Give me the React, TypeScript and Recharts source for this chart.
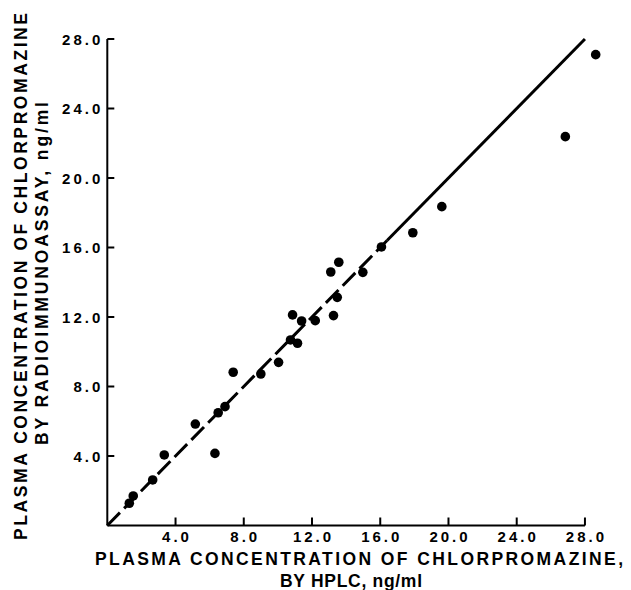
import React from 'react';
import { ScatterChart, Scatter, XAxis, YAxis, ReferenceLine } from 'recharts';

// HPLC (x) vs radioimmunoassay (y), ng/ml
const hplc = [
    1.29, 1.52, 2.66, 3.34, 5.16, 6.31, 6.5, 6.9, 7.38, 9.0, 10.04, 10.74, 11.15,
    10.86, 11.39, 12.19, 13.26, 13.48, 13.1, 13.57, 14.98, 16.07, 17.91, 19.61, 26.85, 28.63,
];
const ria = [
    1.28, 1.7, 2.62, 4.06, 5.84, 4.15, 6.49, 6.84, 8.82, 8.72, 9.39, 10.68, 10.49,
    12.12, 11.77, 11.79, 12.08, 13.13, 14.59, 15.15, 14.57, 16.03, 16.85, 18.35, 22.38, 27.1,
];
const tickValues = [4, 8, 12, 16, 20, 24, 28];
// identity line: dashed part then solid part
const dashedEnd = 16.4;
const lineEnd = 28;

const points = hplc.map((x, i) => ({ x, y: ria[i] }));

const FONT = '"Liberation Sans", Arial, sans-serif';

const XTick = ({ x, y, payload }: any) => (
    <g>
        <line x1={x} x2={x} y1={y} y2={y - 8} stroke="#000" strokeWidth={2} />
        <text
            x={x + 1.5}
            y={y + 16.5}
            textAnchor="middle"
            fontFamily={FONT}
            fontWeight="bold"
            fontSize={15}
            letterSpacing={3}
            fill="#000"
        >
            {payload.value.toFixed(1)}
        </text>
    </g>
);

const YTick = ({ x, y, payload }: any) => (
    <g>
        <line x1={x} x2={x + 7} y1={y} y2={y} stroke="#000" strokeWidth={2} />
        <text
            x={x - 4}
            y={y + 5.5}
            textAnchor="end"
            fontFamily={FONT}
            fontWeight="bold"
            fontSize={15}
            letterSpacing={3}
            fill="#000"
        >
            {payload.value.toFixed(1)}
        </text>
    </g>
);

const Dot = ({ cx, cy }: any) => <circle cx={cx} cy={cy} r={4.8} fill="#000" />;

export default function App() {
    return (
        <div style={{ position: 'relative', width: 623, height: 582 }}>
            <ScatterChart
                width={623}
                height={582}
                margin={{ top: 31, right: 32.4, bottom: 34.5, left: 0 }}
            >
                <XAxis
                    type="number"
                    dataKey="x"
                    domain={[0, 28.8]}
                    ticks={tickValues}
                    axisLine={false}
                    tickLine={false}
                    tickSize={0}
                    tickMargin={0}
                    height={30}
                    tick={<XTick />}
                    interval={0}
                />
                <YAxis
                    type="number"
                    dataKey="y"
                    domain={[0, 28]}
                    ticks={tickValues}
                    axisLine={{ stroke: '#000', strokeWidth: 2 }}
                    tickLine={false}
                    tickSize={0}
                    tickMargin={0}
                    width={99.3}
                    tick={<YTick />}
                    interval={0}
                />
                <ReferenceLine
                    segment={[{ x: 0, y: 0 }, { x: 28, y: 0 }]}
                    stroke="#000"
                    strokeWidth={2}
                />
                <ReferenceLine
                    segment={[{ x: 0, y: 0 }, { x: dashedEnd, y: dashedEnd }]}
                    stroke="#000"
                    strokeWidth={3}
                    strokeDasharray="18 6"
                />
                <ReferenceLine
                    segment={[{ x: dashedEnd, y: dashedEnd }, { x: lineEnd, y: lineEnd }]}
                    stroke="#000"
                    strokeWidth={3}
                />
                <Scatter data={points} fill="#000" shape={<Dot />} isAnimationActive={false} />
            </ScatterChart>

            {/* axis titles, stretched to the widths in the original */}
            <svg
                width={623}
                height={582}
                style={{ position: 'absolute', left: 0, top: 0, overflow: 'visible', pointerEvents: 'none' }}
            >
                <g fontFamily={FONT} fontWeight="bold" fontSize={17.5} fill="#000">
                    <text x={87} y={557} textLength={528} lengthAdjust="spacing">
                        PLASMA CONCENTRATION OF CHLORPROMAZINE,
                    </text>
                    <text x={272} y={578.5} textLength={142} lengthAdjust="spacing">
                        BY HPLC, ng/ml
                    </text>
                    <text
                        x={18.7}
                        y={532}
                        transform="rotate(-90 18.7 532)"
                        textLength={527}
                        lengthAdjust="spacing"
                    >
                        PLASMA CONCENTRATION OF CHLORPROMAZINE
                    </text>
                    <text
                        x={40.3}
                        y={437}
                        transform="rotate(-90 40.3 437)"
                        textLength={343}
                        lengthAdjust="spacing"
                    >
                        BY RADIOIMMUNOASSAY, ng/ml
                    </text>
                </g>
            </svg>
        </div>
    );
}
